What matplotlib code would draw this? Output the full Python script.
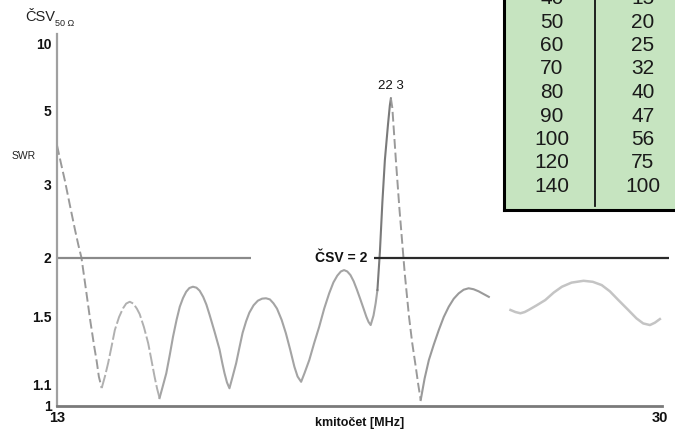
import numpy as np
import matplotlib
matplotlib.use('Agg')
import matplotlib.pyplot as plt

plt.rcParams['font.family'] = ['Liberation Sans', 'DejaVu Sans']

# SWR curve (frequency in MHz, SWR)
freq = [13.00, 13.11, 13.22, 13.36, 13.51, 13.60, 13.69, 13.83, 13.94, 14.05,
        14.12, 14.18, 14.26,
        14.35, 14.44, 14.54, 14.63, 14.75, 14.86, 14.95, 15.05, 15.15, 15.25,
        15.33, 15.45, 15.57, 15.66, 15.75, 15.82, 15.89,
        15.98, 16.08, 16.18, 16.27, 16.37, 16.46, 16.55, 16.64, 16.73, 16.83,
        16.93, 17.02, 17.12, 17.21, 17.30, 17.44, 17.58, 17.66, 17.72, 17.79,
        17.86,
        17.95, 18.05, 18.14, 18.23, 18.33, 18.42, 18.54, 18.66, 18.78, 18.89,
        19.00, 19.10, 19.20, 19.33, 19.45, 19.57, 19.69, 19.78, 19.88,
        19.98, 20.11, 20.25, 20.39, 20.53, 20.67, 20.79, 20.90, 21.00, 21.09,
        21.18, 21.27, 21.36, 21.45, 21.55, 21.64, 21.72, 21.78, 21.84,
        21.92, 21.98, 22.03, 22.10, 22.17, 22.24, 22.33, 22.38, 22.41, 22.45,
        22.55, 22.65, 22.75, 22.80, 22.92, 23.01, 23.11, 23.18, 23.25,
        23.36, 23.48, 23.62, 23.76, 23.90, 24.04, 24.18, 24.32, 24.46, 24.60,
        24.74, 24.88, 25.02, 25.17,
        25.78, 25.92, 26.06, 26.18, 26.29, 26.52, 26.76, 27.00, 27.23, 27.50,
        27.84, 28.10, 28.35, 28.58, 28.82, 29.08, 29.33, 29.52, 29.71, 29.85,
        29.99]
swr = [3.85, 3.42, 3.07, 2.66, 2.31, 2.14, 2.00, 1.68, 1.47, 1.306,
       1.22, 1.139, 1.082,
       1.14, 1.211, 1.31, 1.411, 1.50, 1.562, 1.598, 1.612, 1.598, 1.560,
       1.52, 1.43, 1.327, 1.23, 1.139, 1.08, 1.034,
       1.09, 1.157, 1.26, 1.368, 1.48, 1.574, 1.64, 1.691, 1.722, 1.733,
       1.725, 1.700, 1.65, 1.59, 1.515, 1.40, 1.290, 1.21, 1.158, 1.11,
       1.081,
       1.14, 1.212, 1.30, 1.392, 1.47, 1.53, 1.585, 1.620, 1.636, 1.639,
       1.630, 1.600, 1.56, 1.48, 1.39, 1.29, 1.192, 1.14, 1.113,
       1.16, 1.229, 1.33, 1.433, 1.56, 1.678, 1.77, 1.830, 1.868, 1.881,
       1.868, 1.835, 1.78, 1.71, 1.63, 1.56, 1.50, 1.465, 1.444,
       1.51, 1.60, 1.705, 2.064, 2.7, 3.486, 4.5, 5.2, 5.525, 5.1,
       3.486, 2.6, 2.064, 1.85, 1.502, 1.33, 1.192, 1.10, 1.025,
       1.13, 1.229, 1.32, 1.411, 1.50, 1.574, 1.635, 1.678, 1.708, 1.720,
       1.712, 1.695, 1.673, 1.650,
       1.550, 1.535, 1.526, 1.535, 1.550, 1.585, 1.625, 1.685, 1.733, 1.768,
       1.784, 1.775, 1.747, 1.695, 1.625, 1.555, 1.490, 1.455, 1.444, 1.46,
       1.485]

y_ticks = [1, 1.1, 1.5, 2, 3, 5, 10]
x_ticks = [13, 30]

# table in the upper right corner
tab_mhz = [40, 50, 60, 70, 80, 90, 100, 120, 140]
tab_val = [15, 20, 25, 32, 40, 47, 56, 75, 100]


def fwd(s):
    s = np.asarray(s, dtype=float)
    return (s - 1) / (s + 1)


def inv(g):
    g = np.asarray(g, dtype=float)
    with np.errstate(divide='ignore', invalid='ignore'):
        return (1 + g) / (1 - g)


fig = plt.figure(figsize=(6.75, 4.29), dpi=100)
ax = fig.add_axes([57 / 675, 23.5 / 429, 605 / 675, 372 / 429])
ax.set_yscale('function', functions=(fwd, inv))
ax.set_xlim(13, 30.05)
ax.set_ylim(1, 11.5)

f = np.array(freq)
s = np.array(swr)


def idx(x):
    return int(np.searchsorted(f, x))


# curve pieces: dashed / solid like the scanned original, gap near 25.5 MHz
a, b = idx(14.26), idx(15.89)
p0, p1 = idx(22.03), idx(22.41)
c, d = idx(23.25), idx(25.17)
ax.plot(f[:a + 1], s[:a + 1], color='#9a9a9a', lw=1.4, ls=(0, (5, 2)))
ax.plot(f[a:b + 1], s[a:b + 1], color='#b0b0b0', lw=1.4, ls=(0, (7, 1.5)))
ax.plot(f[b:p0 + 1], s[b:p0 + 1], color='#a4a4a4', lw=1.5)
ax.plot(f[p0:p1 + 1], s[p0:p1 + 1], color='#7a7a7a', lw=1.5)
ax.plot(f[p1:c + 1], s[p1:c + 1], color='#9a9a9a', lw=1.4, ls=(0, (5, 2)))
ax.plot(f[c:d + 1], s[c:d + 1], color='#9a9a9a', lw=1.5)
ax.plot(f[d + 1:], s[d + 1:], color='#c4c4c4', lw=1.8)

# SWR = 2 reference line
ax.plot([13, 18.48], [2, 2], color='#8a8a8a', lw=1.6, solid_capstyle='butt')
ax.plot([21.93, 30.25], [2, 2], color='#2a2a2a', lw=1.6, clip_on=False,
        solid_capstyle='butt')
ax.text(21.0, 2, 'ČSV = 2', fontsize=10, fontweight='bold', ha='center',
        va='center', color='#111111')

# peak annotation
i_peak = int(np.argmax(s))
ax.text(f[i_peak], 5.85, '22 3', fontsize=9.5, ha='center', va='bottom',
        color='#111111')

ax.set_yticks(y_ticks)
ax.set_yticklabels([str(v) for v in y_ticks], fontsize=10, fontweight='bold')
ax.yaxis.set_minor_locator(matplotlib.ticker.NullLocator())
ax.set_xticks(x_ticks)
ax.set_xticklabels([str(v) for v in x_ticks], fontsize=10.5, fontweight='bold')
ax.tick_params(axis='y', length=0, pad=4, colors='#111111')
ax.tick_params(axis='x', length=0, pad=4, colors='#111111')
ax.set_xlabel('kmitočet [MHz]', fontsize=9, fontweight='bold', labelpad=-6,
              color='#111111')

for side in ['top', 'right']:
    ax.spines[side].set_visible(False)
ax.spines['left'].set_color('#a0a0a0')
ax.spines['left'].set_linewidth(1.6)
ax.spines['bottom'].set_color('#7a7a7a')
ax.spines['bottom'].set_linewidth(2)

fig.text(12 / 675, 1 - 156 / 429, 'SWR', fontsize=7.5, ha='left', va='center',
         color='#222222')
fig.text(25 / 675, 1 - 17 / 429, 'ČSV', fontsize=10.5, ha='left',
         va='center', color='#222222')
fig.text(55 / 675, 1 - 24 / 429, '50 Ω', fontsize=6.5, ha='left',
         va='center', color='#222222')

# table (its top row is cut by the figure edge, as in the original)
tax = fig.add_axes([504 / 675, 1 - 210 / 429, 171 / 675, 210 / 429])
tax.set_xlim(0, 171)
tax.set_ylim(210, 0)
tax.set_facecolor('#c6e4c0')
tax.set_xticks([])
tax.set_yticks([])
for side in ['top', 'right']:
    tax.spines[side].set_visible(False)
tax.spines['left'].set_linewidth(2.2)
tax.spines['bottom'].set_linewidth(2.2)
tax.plot([91, 91], [0, 206], color='#111111', lw=1.3)
for i, (m, v) in enumerate(zip(tab_mhz, tab_val)):
    y = -1.5 + i * 23.5
    tax.text(48, y, str(m), fontsize=15, ha='center', va='center',
             color='#1a1a1a')
    tax.text(139, y, str(v), fontsize=15, ha='center', va='center',
             color='#1a1a1a')

fig.savefig('out.png', dpi=100)
